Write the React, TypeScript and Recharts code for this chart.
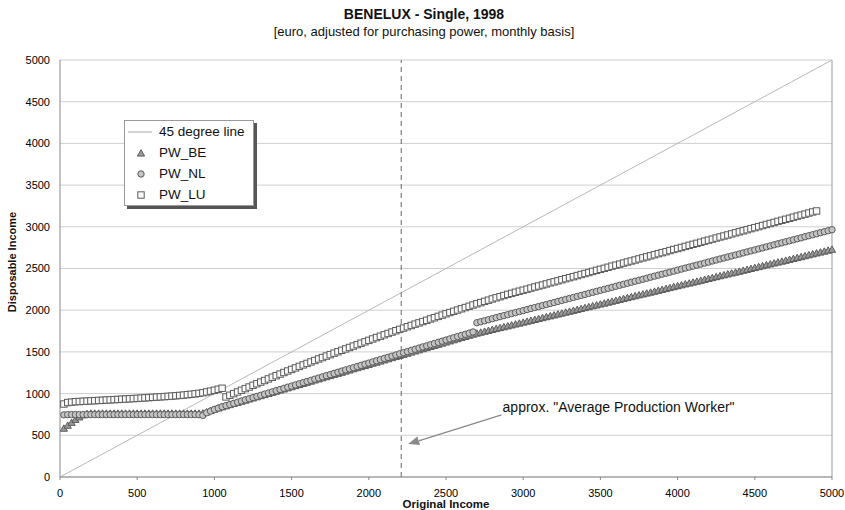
import { ScatterChart, Scatter, XAxis, YAxis, CartesianGrid, ReferenceLine } from 'recharts'

// original income grid (euro / month)
const income = [
  25, 50, 75, 100, 125, 150, 175, 200, 225, 250, 275, 300, 325, 350, 375, 400, 425, 450, 475, 500,
  525, 550, 575, 600, 625, 650, 675, 700, 725, 750, 775, 800, 825, 850, 875, 900, 925, 950, 975, 1000,
  1025, 1050, 1075, 1100, 1125, 1150, 1175, 1200, 1225, 1250, 1275, 1300, 1325, 1350, 1375, 1400, 1425, 1450, 1475, 1500,
  1525, 1550, 1575, 1600, 1625, 1650, 1675, 1700, 1725, 1750, 1775, 1800, 1825, 1850, 1875, 1900, 1925, 1950, 1975, 2000,
  2025, 2050, 2075, 2100, 2125, 2150, 2175, 2200, 2225, 2250, 2275, 2300, 2325, 2350, 2375, 2400, 2425, 2450, 2475, 2500,
  2525, 2550, 2575, 2600, 2625, 2650, 2675, 2700, 2725, 2750, 2775, 2800, 2825, 2850, 2875, 2900, 2925, 2950, 2975, 3000,
  3025, 3050, 3075, 3100, 3125, 3150, 3175, 3200, 3225, 3250, 3275, 3300, 3325, 3350, 3375, 3400, 3425, 3450, 3475, 3500,
  3525, 3550, 3575, 3600, 3625, 3650, 3675, 3700, 3725, 3750, 3775, 3800, 3825, 3850, 3875, 3900, 3925, 3950, 3975, 4000,
  4025, 4050, 4075, 4100, 4125, 4150, 4175, 4200, 4225, 4250, 4275, 4300, 4325, 4350, 4375, 4400, 4425, 4450, 4475, 4500,
  4525, 4550, 4575, 4600, 4625, 4650, 4675, 4700, 4725, 4750, 4775, 4800, 4825, 4850, 4875, 4900, 4925, 4950, 4975, 5000,
]

// disposable income, Belgium
const pwBE = [
  580, 615, 650, 685, 715, 740, 755, 760, 760, 760, 760, 760, 760, 760, 760, 760, 760, 760, 760, 760,
  760, 760, 760, 760, 760, 760, 760, 760, 760, 760, 760, 760, 760, 760, 760, 760, 762, 775, 792, 808,
  822, 836, 849, 863, 876, 890, 903, 916, 930, 943, 957, 970, 983, 997, 1010, 1024, 1037, 1050, 1064, 1077,
  1091, 1104, 1117, 1131, 1144, 1158, 1171, 1184, 1198, 1211, 1225, 1238, 1251, 1265, 1278, 1292, 1305, 1318, 1332, 1345,
  1359, 1372, 1385, 1399, 1412, 1426, 1439, 1452, 1466, 1479, 1493, 1506, 1519, 1533, 1546, 1560, 1573, 1586, 1600, 1613,
  1627, 1640, 1653, 1667, 1680, 1694, 1707, 1720, 1731, 1742, 1753, 1764, 1775, 1786, 1796, 1807, 1818, 1829, 1840, 1851,
  1862, 1873, 1884, 1895, 1906, 1917, 1927, 1938, 1949, 1960, 1971, 1982, 1993, 2004, 2015, 2026, 2037, 2048, 2058, 2069,
  2080, 2091, 2102, 2113, 2124, 2135, 2146, 2157, 2168, 2179, 2189, 2200, 2211, 2222, 2233, 2244, 2255, 2266, 2277, 2288,
  2299, 2310, 2320, 2331, 2342, 2353, 2364, 2375, 2386, 2397, 2408, 2419, 2430, 2441, 2451, 2462, 2473, 2484, 2495, 2506,
  2517, 2528, 2539, 2550, 2561, 2572, 2582, 2593, 2604, 2615, 2626, 2637, 2648, 2659, 2670, 2681, 2692, 2703, 2714, 2725,
]

// disposable income, Netherlands
const pwNL = [
  745, 748, 748, 748, 748, 748, 748, 748, 748, 748, 748, 748, 748, 748, 748, 748, 748, 748, 748, 748,
  748, 748, 748, 748, 748, 748, 748, 748, 748, 748, 748, 748, 748, 748, 748, 746, 738, 770, 790, 810,
  826, 842, 856, 870, 883, 897, 911, 925, 939, 952, 966, 980, 994, 1008, 1021, 1035, 1049, 1063, 1077, 1090,
  1104, 1118, 1132, 1146, 1159, 1173, 1187, 1201, 1215, 1228, 1242, 1256, 1270, 1284, 1297, 1311, 1325, 1339, 1353, 1366,
  1380, 1394, 1408, 1422, 1435, 1449, 1463, 1477, 1491, 1504, 1518, 1532, 1546, 1560, 1573, 1587, 1601, 1615, 1629, 1642,
  1656, 1670, 1684, 1698, 1711, 1725, 1739, 1850, 1862, 1874, 1886, 1898, 1911, 1923, 1935, 1947, 1959, 1971, 1983, 1995,
  2008, 2020, 2032, 2044, 2056, 2068, 2080, 2092, 2105, 2117, 2129, 2141, 2153, 2165, 2177, 2189, 2202, 2214, 2226, 2238,
  2250, 2262, 2274, 2286, 2299, 2311, 2323, 2335, 2347, 2359, 2371, 2383, 2396, 2408, 2420, 2432, 2444, 2456, 2468, 2480,
  2493, 2505, 2517, 2529, 2541, 2553, 2565, 2577, 2590, 2602, 2614, 2626, 2638, 2650, 2662, 2674, 2687, 2699, 2711, 2723,
  2735, 2747, 2759, 2771, 2784, 2796, 2808, 2820, 2832, 2844, 2856, 2868, 2881, 2893, 2905, 2917, 2929, 2941, 2953, 2965,
]

// disposable income, Luxembourg (no points past 4900)
const pwLU = [
  875, 893, 898, 903, 905, 908, 910, 913, 915, 918, 920, 923, 925, 928, 930, 933, 935, 938, 940, 943,
  946, 949, 952, 955, 958, 961, 964, 967, 970, 974, 978, 982, 987, 992, 997, 1003, 1010, 1020, 1030, 1040,
  1052, 1064, 960, 980, 1000, 1020, 1040, 1060, 1079, 1099, 1118, 1138, 1157, 1176, 1196, 1215, 1234, 1253, 1271, 1290,
  1308, 1326, 1344, 1362, 1380, 1397, 1415, 1432, 1450, 1467, 1485, 1502, 1519, 1536, 1553, 1570, 1587, 1604, 1621, 1638,
  1655, 1672, 1688, 1705, 1721, 1738, 1754, 1770, 1786, 1802, 1817, 1833, 1848, 1864, 1879, 1895, 1910, 1926, 1941, 1957,
  1972, 1987, 2002, 2017, 2032, 2047, 2062, 2077, 2091, 2106, 2120, 2135, 2149, 2162, 2176, 2190, 2202, 2215, 2228, 2240,
  2252, 2265, 2278, 2290, 2302, 2315, 2328, 2340, 2352, 2365, 2378, 2390, 2402, 2415, 2428, 2440, 2452, 2465, 2478, 2490,
  2502, 2515, 2528, 2540, 2552, 2565, 2578, 2590, 2602, 2615, 2628, 2640, 2652, 2665, 2678, 2690, 2702, 2715, 2728, 2740,
  2752, 2765, 2778, 2790, 2802, 2815, 2828, 2840, 2852, 2865, 2878, 2890, 2902, 2915, 2928, 2940, 2952, 2965, 2978, 2990,
  3002, 3015, 3028, 3040, 3052, 3065, 3078, 3090, 3102, 3115, 3128, 3140, 3152, 3165, 3178, 3190, null, null, null, null,
]

const axisTicks = [0, 500, 1000, 1500, 2000, 2500, 3000, 3500, 4000, 4500, 5000]
const diagonal = [{ x: 0, y: 0 }, { x: 5000, y: 5000 }]
const apwIncome = 2210
const arrowFrom = { x: 2860, y: 745 }
const arrowTo = { x: 2255, y: 395 }
const apwNote = 'approx. "Average Production Worker"'

const FONT = '"Liberation Sans", Arial, sans-serif'
const MARK = '#5c5c5c'

function toPoints(values: (number | null)[]) {
  return income
    .map((x, i) => ({ x, y: values[i] }))
    .filter((p) => p.y !== null)
}

const Triangle = ({ cx, cy }: any) => (
  <polygon
    points={`${cx},${cy - 3.8} ${cx - 3.6},${cy + 2.6} ${cx + 3.6},${cy + 2.6}`}
    fill="#9a9a9a"
    stroke={MARK}
    strokeWidth={1}
  />
)

const Circle = ({ cx, cy }: any) => (
  <circle cx={cx} cy={cy} r={3.2} fill="#c4c4c4" stroke={MARK} strokeWidth={1} />
)

const Square = ({ cx, cy }: any) => (
  <rect x={cx - 3.2} y={cy - 3.2} width={6.4} height={6.4} fill="#fafafa" stroke={MARK} strokeWidth={1} />
)

// arrow pointing at the APW line, with its note written at the tail
const ArrowNote = ({ x1, y1, x2, y2 }: any) => {
  const ang = Math.atan2(y2 - y1, x2 - x1)
  const len = 11
  const w = 4.5
  const bx = x2 - len * Math.cos(ang)
  const by = y2 - len * Math.sin(ang)
  const head = `${x2},${y2} ${bx + w * Math.sin(ang)},${by - w * Math.cos(ang)} ${bx - w * Math.sin(ang)},${by + w * Math.cos(ang)}`
  return (
    <g>
      <line x1={x1} y1={y1} x2={bx} y2={by} stroke="#8a8a8a" strokeWidth={1.3} />
      <polygon points={head} fill="#8a8a8a" />
      <text x={x1 + 1} y={y1 - 3} fontSize={14} fontFamily={FONT} fill="#111">
        {apwNote}
      </text>
    </g>
  )
}

function LegendBox() {
  const rows = [
    { name: '45 degree line', icon: <line x1={0} y1={6} x2={24} y2={6} stroke="#aaa" strokeWidth={1} /> },
    { name: 'PW_BE', icon: <Triangle cx={13} cy={6.5} /> },
    { name: 'PW_NL', icon: <Circle cx={13} cy={6} /> },
    { name: 'PW_LU', icon: <Square cx={13} cy={6} /> },
  ]
  return (
    <div
      style={{
        position: 'absolute',
        left: 124,
        top: 120,
        width: 128,
        height: 84,
        background: '#fff',
        border: '1px solid #999',
        boxShadow: '3px 3px 0 #555',
        fontFamily: FONT,
        fontSize: 13.5,
        color: '#111',
      }}
    >
      {rows.map((r, i) => (
        <div key={r.name} style={{ position: 'absolute', left: 3, top: 4 + i * 21, height: 14, display: 'flex', alignItems: 'center' }}>
          <svg width={26} height={12} style={{ display: 'block' }}>{r.icon}</svg>
          <span style={{ marginLeft: 5, lineHeight: '14px', whiteSpace: 'nowrap' }}>{r.name}</span>
        </div>
      ))}
    </div>
  )
}

export default function App() {
  return (
    <div style={{ position: 'absolute', left: 0, top: 0, width: 845, height: 510, background: '#fff', overflow: 'hidden' }}>
      <div style={{ position: 'absolute', left: 0, top: 6, width: 848, textAlign: 'center', fontFamily: FONT, fontWeight: 'bold', fontSize: 14, lineHeight: '16px', color: '#111' }}>
        BENELUX - Single, 1998
      </div>
      <div style={{ position: 'absolute', left: 0, top: 24, width: 848, textAlign: 'center', fontFamily: FONT, fontSize: 13, lineHeight: '16px', color: '#111' }}>
        [euro, adjusted for purchasing power, monthly basis]
      </div>

      <ScatterChart width={845} height={510} margin={{ top: 60, right: 13, bottom: 0, left: 0 }}>
        <CartesianGrid vertical={false} stroke="#cfcfcf" />
        <XAxis
          type="number"
          dataKey="x"
          domain={[0, 5000]}
          ticks={axisTicks}
          height={33}
          stroke="#888"
          tickSize={3}
          tickMargin={9}
          tick={{ fontSize: 11, fill: '#000', fontFamily: FONT }}
        />
        <YAxis
          type="number"
          dataKey="y"
          domain={[0, 5000]}
          ticks={axisTicks}
          width={60}
          stroke="#888"
          tickLine={false}
          tickSize={4}
          tickMargin={6}
          tick={{ fontSize: 11, fill: '#000', fontFamily: FONT }}
        />
        <ReferenceLine x={5000} stroke="#999" />
        <ReferenceLine segment={diagonal} stroke="#b8b8b8" strokeWidth={1} />
        <ReferenceLine x={apwIncome} stroke="#666" strokeDasharray="5 4" />
        <Scatter name="PW_BE" data={toPoints(pwBE)} shape={Triangle} isAnimationActive={false} />
        <Scatter name="PW_NL" data={toPoints(pwNL)} shape={Circle} isAnimationActive={false} />
        <Scatter name="PW_LU" data={toPoints(pwLU)} shape={Square} isAnimationActive={false} />
        <ReferenceLine segment={[arrowFrom, arrowTo]} shape={ArrowNote} />
      </ScatterChart>

      <LegendBox />

      <div style={{ position: 'absolute', left: 346, top: 498, width: 200, textAlign: 'center', fontFamily: FONT, fontWeight: 'bold', fontSize: 11.5, lineHeight: '12px', color: '#111' }}>
        Original Income
      </div>
      <div style={{ position: 'absolute', left: -88, top: 255, width: 200, height: 14, textAlign: 'center', transform: 'rotate(-90deg)', fontFamily: FONT, fontWeight: 'bold', fontSize: 11, lineHeight: '14px', color: '#111' }}>
        Disposable Income
      </div>
    </div>
  )
}
